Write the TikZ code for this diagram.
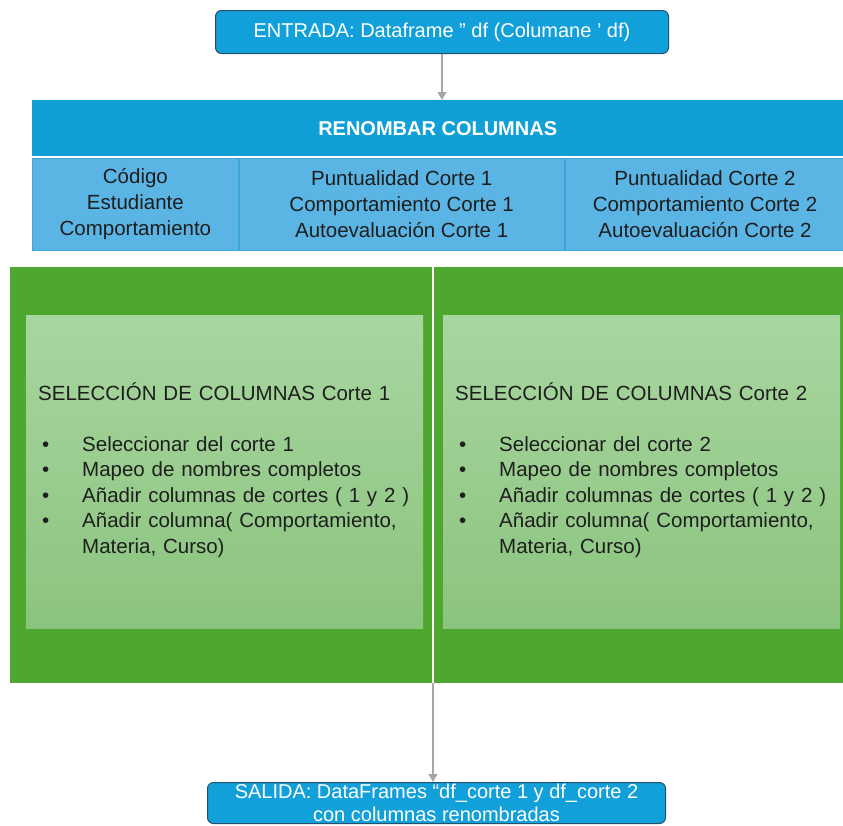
\documentclass[tikz,border=0pt]{standalone}
\usepackage{fontspec}
\setmainfont{Liberation Sans}
\usetikzlibrary{positioning,arrows.meta}
\definecolor{azul}{HTML}{12A0DA}
\definecolor{borde}{HTML}{24506E}
\definecolor{azulhdr}{HTML}{119FD8}
\definecolor{azulclaro}{HTML}{5AB4E4}
\definecolor{azullinea}{HTML}{3EA5DC}
\definecolor{verde}{HTML}{4EA72E}
\definecolor{verdetop}{HTML}{A8D6A0}
\definecolor{verdebot}{HTML}{8BC47E}
\definecolor{gris}{HTML}{A6A6A6}
\definecolor{texto}{HTML}{1E1E1E}

\begin{document}
\begin{tikzpicture}[
      x=1pt,y=-1pt,
      iobox/.style={draw=borde,line width=1pt,rounded corners=6pt,fill=azul,text=white,
        anchor=north west,inner sep=0pt,align=center,font=\fontsize{20}{23}\selectfont},
      hdr/.style={fill=azulhdr,anchor=north west,inner sep=0pt,text=white,
        font=\fontsize{20}{24}\selectfont\bfseries},
      celda/.style={fill=azulclaro,draw=azullinea,line width=0.8pt,anchor=north west,inner sep=0pt,
        align=center,minimum height=92pt,text=texto,font=\fontsize{20.5}{26}\selectfont},
      bloque/.style={fill=verde,anchor=north west,inner sep=0pt,minimum height=416pt},
      selbox/.style={top color=verdetop,bottom color=verdebot,anchor=north west,
        minimum height=313pt,inner xsep=12pt,text width=373pt,align=left,text=texto,
        font=\fontsize{20.5}{25.5}\selectfont},
      flecha/.style={-{Triangle[length=8pt,width=9pt]},draw=gris,fill=gris,line width=1.2pt},
      ]
      \useasboundingbox (0,0) rectangle (843,825);

      \node[iobox,minimum width=453pt,minimum height=43pt] (entrada) at (215,10)
        {ENTRADA: Dataframe " df (Columane ' df)};

      \node[hdr,minimum width=811pt,minimum height=56pt] (renombrar) at (32,100) {RENOMBAR COLUMNAS};
      \node[celda,minimum width=206pt] (codigo) at (32,158) {Código\\Estudiante\\Comportamiento};
      \node[celda,minimum width=325pt,right=0pt of codigo] (corte1)
        {Puntualidad Corte 1\\Comportamiento Corte 1\\Autoevaluación Corte 1};
      \node[celda,minimum width=280pt,right=0pt of corte1] (corte2)
        {Puntualidad Corte 2\\Comportamiento Corte 2\\Autoevaluación Corte 2};

      \node[bloque,minimum width=422pt] (verde1) at (10,267) {};
      \node[bloque,minimum width=409pt] (verde2) at (434,267) {};

      \node[selbox] (sel1) at (26,315) {%
        \begin{tabular}{@{\hspace{4pt}}p{40pt}@{}l@{}}
        \multicolumn{2}{@{}l@{}}{SELECCIÓN DE COLUMNAS Corte 1}\\[25.5pt]
        \textbullet & Seleccionar del corte 1\\
        \textbullet & Mapeo de nombres completos\\
        \textbullet & Añadir columnas de cortes ( 1 y 2 )\\
        \textbullet & Añadir columna( Comportamiento,\\
                    & Materia, Curso)
        \end{tabular}};
      \node[selbox] (sel2) at (443,315) {%
        \begin{tabular}{@{\hspace{4pt}}p{40pt}@{}l@{}}
        \multicolumn{2}{@{}l@{}}{SELECCIÓN DE COLUMNAS Corte 2}\\[25.5pt]
        \textbullet & Seleccionar del corte 2\\
        \textbullet & Mapeo de nombres completos\\
        \textbullet & Añadir columnas de cortes ( 1 y 2 )\\
        \textbullet & Añadir columna( Comportamiento,\\
                    & Materia, Curso)
        \end{tabular}};

      \node[iobox,minimum width=458pt,minimum height=41pt] (salida) at (207,782)
        {SALIDA: DataFrames “df\_corte 1 y df\_corte 2\\con columnas renombradas};

      \coordinate (hueco) at (433,683);
      \draw[flecha] (entrada.south) -- (entrada.south |- renombrar.north);
      \draw[flecha] (hueco) -- (hueco |- salida.north);
    \end{tikzpicture}
\end{document}
